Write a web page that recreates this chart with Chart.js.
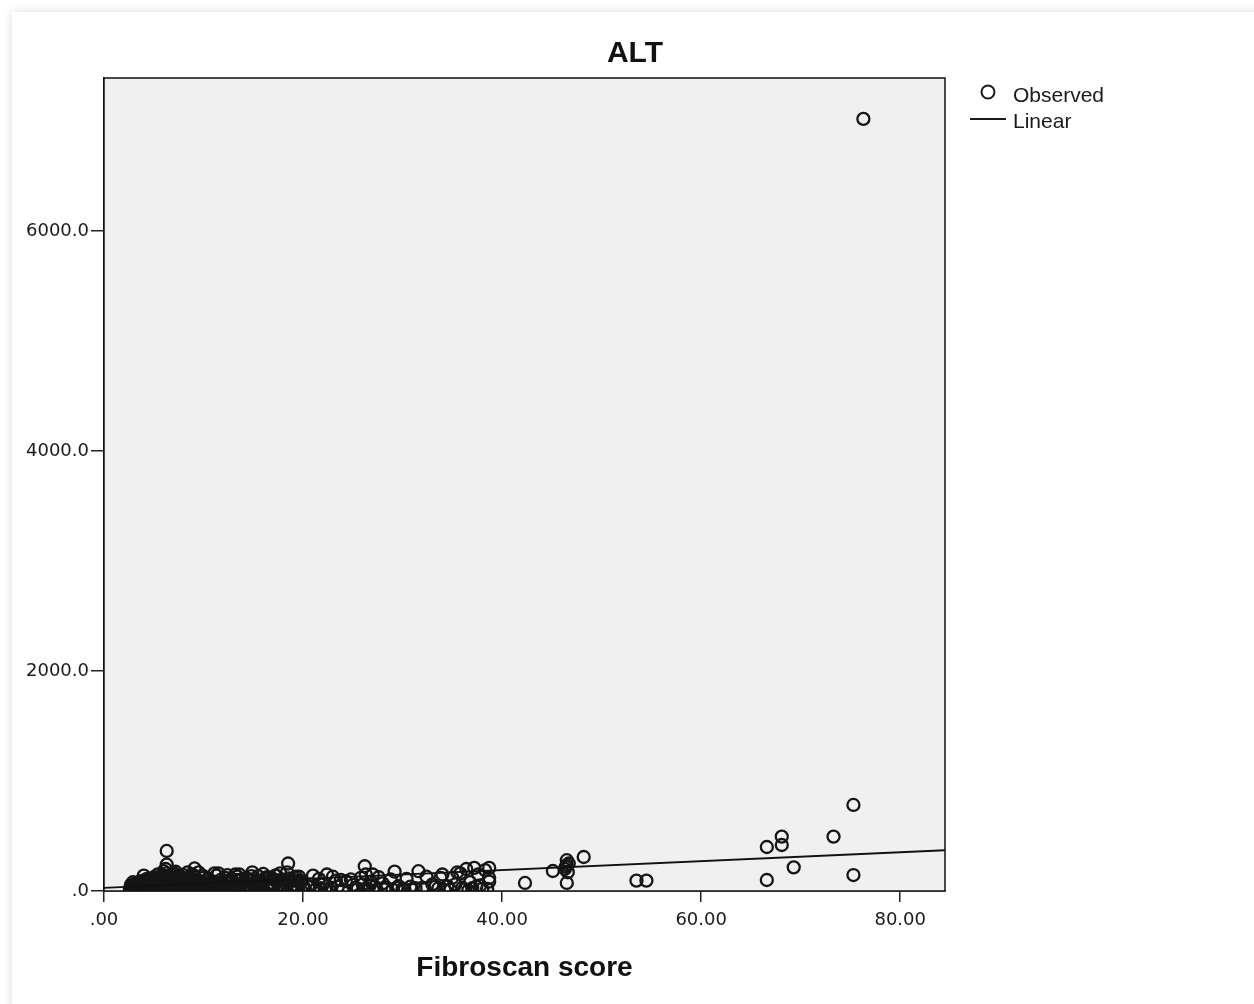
<!DOCTYPE html>
<html>
<head>
<meta charset="utf-8">
<script src="https://cdn.jsdelivr.net/npm/chart.js@4/dist/chart.umd.min.js"></script>
<style>
    body { margin: 0; background: #fff; }
    #card {
        position: absolute; left: 12px; top: 12px; width: 1300px; height: 1100px;
        background: #fff; box-shadow: 0 0 10px rgba(0, 0, 0, 0.14);
    }
    #canvasALT { position: absolute; left: 0; top: 0; }
</style>
</head>
<body>
<div id="card"></div>
<canvas id="canvasALT" width="1254" height="1004"></canvas>
<script>
const TITULO = 'ALT';
const TITULO_X = 'Fibroscan score';
const X_MAX = 84.5;
const Y_MAX = 7390;
const X_TICKS = [0, 20, 40, 60, 80];
const Y_TICKS = [0, 2000, 4000, 6000];

// recta de ajuste lineal
const AJUSTE_INTERCEPTO = 28;
const AJUSTE_PENDIENTE = 4.05;

// observaciones (fibroscan, ALT)
const fibroscan = [
    2.6, 2.8, 2.9, 3.0, 3.1, 3.2, 3.3, 3.4, 3.5, 3.6, 3.7, 3.8, 3.9, 4.0, 4.1, 4.2, 4.3, 4.4, 4.5, 4.6, 4.7, 4.8, 4.9, 5.0,
    3.0, 3.3, 3.6, 3.9, 4.2, 4.5, 4.8, 3.5, 4.0, 4.4, 4.7, 5.0,
    5.1, 5.2, 5.3, 5.4, 5.5, 5.6, 5.7, 5.8, 5.9, 6.0, 6.1, 6.2, 6.3, 6.4, 6.5, 6.6, 6.7, 6.8, 6.9, 7.0,
    7.1, 7.2, 7.3, 7.4, 7.5, 7.6, 7.7, 7.8, 7.9, 8.0, 8.2, 8.4, 8.6, 8.8, 9.0, 9.2, 9.4, 9.6, 9.8, 10.0,
    5.5, 6.0, 6.3, 6.5, 7.0, 7.5, 8.0, 8.5, 9.0, 9.5, 5.8, 6.2, 6.8, 7.2, 7.8, 8.3, 8.9, 9.3, 9.7,
    6.3, 6.4, 9.1,
    10.2, 10.5, 10.8, 11.0, 11.3, 11.6, 11.9, 12.2, 12.5, 12.8, 13.1, 13.4, 13.7, 14.0, 14.3, 14.6, 14.9,
    15.2, 15.5, 15.8, 16.1, 16.4, 16.7, 17.0, 17.3, 17.6, 17.9, 18.2, 18.5, 18.8, 19.1, 19.4, 19.7, 20.0,
    10.4, 11.1, 11.8, 12.4, 13.0, 13.6, 14.2, 14.8, 15.4, 16.0, 16.6, 17.2, 17.8, 18.4, 19.0, 19.6,
    10.9, 12.0, 13.3, 14.5, 15.7, 16.9, 18.0, 19.2, 18.5, 12.6, 16.3,
    2.7, 3.1, 3.4, 3.8, 4.1, 4.6, 5.2, 5.6, 6.1, 6.6, 7.1, 7.6, 8.1, 8.7, 9.1, 9.9, 10.6, 11.4, 12.1,
    12.9, 13.8, 14.4, 15.1, 15.9, 16.8, 17.5, 18.1, 18.9, 19.5,
    2.9, 3.6, 4.3, 5.1, 5.9, 6.7, 7.4, 8.3, 9.4, 10.3, 11.2, 12.3, 13.5, 14.7, 15.6, 16.5, 17.4, 18.6, 19.8,
    4.0, 5.4, 6.9, 8.4, 9.9, 11.5, 13.2, 14.9, 16.2, 17.7, 19.3,
    3.2, 3.7, 4.4, 5.3, 5.7, 6.4, 7.3, 7.9, 8.6, 9.3, 10.1, 10.7, 11.7, 12.7, 13.9,
    14.1, 15.3, 16.4, 17.1, 18.3, 19.4, 4.9, 6.5, 8.1, 9.6, 11.0, 12.8, 15.0, 17.0, 18.8,
    20.5, 21.0, 21.3, 21.6, 22.0, 22.4, 22.8, 23.3, 23.8, 24.3, 24.8, 25.3, 25.8, 26.0, 26.2, 26.3,
    26.5, 26.8, 27.2, 27.6, 28.0, 28.4, 28.8, 29.2, 29.6, 30.0, 30.4, 31.0, 31.6, 32.0, 32.4, 33.0,
    33.6, 34.0, 34.5, 35.0, 35.5, 36.0, 36.4, 36.8, 37.2, 37.6, 38.0, 38.3, 38.7, 38.7, 38.7,
    21.2, 22.2, 26.4, 29.0, 34.2, 36.6, 37.4,
    20.2, 20.8, 21.8, 22.6, 23.5, 24.0, 25.0, 25.5, 26.1, 26.7, 27.4, 28.2, 29.4, 30.2, 30.8, 31.3,
    32.2, 33.3, 34.8, 35.3, 36.2, 37.0, 37.8, 38.5, 23.0, 27.0, 33.8, 35.8,
    42.3, 45.1, 46.3, 46.5, 46.5, 46.6, 46.7, 46.4, 46.5, 48.2, 53.5, 54.5,
    66.6, 66.6, 68.1, 68.1, 69.3, 73.3, 75.3, 75.3, 76.3
];
const alt = [
    18, 25, 12, 40, 22, 55, 30, 15, 65, 38, 20, 75, 45, 28, 90, 52, 33, 60, 18, 85, 42, 100, 25, 70,
    8, 48, 10, 62, 5, 35, 110, 80, 95, 12, 58, 125,
    30, 95, 15, 60, 120, 40, 80, 22, 105, 55, 135, 28, 160, 70, 18, 115, 45, 150, 35, 90,
    62, 125, 20, 100, 48, 140, 75, 12, 110, 58, 85, 30, 130, 65, 40, 105, 25, 90, 50, 120,
    5, 180, 240, 10, 160, 8, 145, 15, 130, 170, 70, 200, 25, 175, 95, 20, 150, 60, 85,
    364, 110, 205,
    45, 110, 20, 85, 140, 30, 65, 120, 15, 95, 50, 130, 25, 80, 115, 40, 100,
    60, 135, 22, 90, 125, 35, 70, 140, 55, 105, 18, 85, 45, 120, 30, 75, 50,
    8, 160, 12, 145, 5, 150, 10, 135, 6, 155, 12, 140, 8, 170, 10, 130,
    60, 40, 100, 25, 80, 115, 45, 95, 250, 75, 110,
    55, 70, 8, 30, 75, 15, 50, 10, 30, 5, 40, 20, 10, 35, 15, 10, 30, 10, 55,
    35, 60, 20, 30, 50, 20, 10, 40, 25, 10,
    80, 25, 110, 70, 130, 90, 60, 110, 70, 95, 40, 90, 60, 105, 85, 55, 95, 115, 90,
    140, 150, 120, 170, 140, 160, 150, 170, 120, 160, 130,
    35, 90, 65, 100, 45, 125, 80, 50, 100, 30, 75, 50, 100, 70, 110,
    40, 80, 35, 100, 60, 45, 20, 45, 35, 60, 25, 110, 70, 55, 100,
    40, 140, 20, 110, 60, 150, 30, 95, 100, 90, 105, 30, 120, 60, 225, 150,
    20, 85, 40, 125, 70, 30, 105, 176, 45, 20, 110, 10, 180, 30, 130, 60,
    25, 150, 45, 120, 170, 30, 200, 80, 210, 150, 20, 190, 210, 118, 85,
    10, 15, 8, 12, 10, 5, 40,
    10, 60, 25, 15, 40, 10, 55, 20, 5, 50, 10, 15, 30, 10, 40, 25,
    15, 40, 10, 60, 15, 25, 50, 20, 130, 150, 120, 160,
    73, 182, 200, 236, 280, 170, 250, 220, 73, 309, 94, 94,
    100, 400, 494, 418, 215, 494, 782, 145, 7018
];

const puntos = fibroscan.map((x, i) => ({ x, y: alt[i] }));
const recta = [0, X_MAX].map(x => ({ x, y: AJUSTE_INTERCEPTO + AJUSTE_PENDIENTE * x }));

// fondo gris y marco del area de trazado, titulo y leyenda
const marcoPlugin = {
    id: 'marco',
    beforeDatasetsDraw(chart) {
        const { ctx, chartArea: a } = chart;
        ctx.save();
        ctx.fillStyle = '#f0f0f0';
        ctx.fillRect(a.left, a.top, a.right - a.left, a.bottom - a.top);
        ctx.restore();
    },
    afterDraw(chart) {
        const { ctx, chartArea: a } = chart;
        ctx.save();
        ctx.strokeStyle = '#111';
        ctx.lineWidth = 1.5;
        ctx.strokeRect(a.left, a.top, a.right - a.left, a.bottom - a.top);

        ctx.fillStyle = '#111';
        ctx.font = 'bold 30px "Liberation Sans", Arial, sans-serif';
        ctx.textAlign = 'center';
        ctx.textBaseline = 'middle';
        ctx.fillText(TITULO, 635, 54);

        // leyenda
        const ds = chart.data.datasets;
        ctx.textAlign = 'left';
        ctx.font = '21px "Liberation Sans", Arial, sans-serif';
        ctx.fillStyle = '#1a1a1a';
        ctx.strokeStyle = '#1a1a1a';
        ctx.lineWidth = 2;
        ctx.beginPath();
        ctx.arc(988, 92, 6.5, 0, Math.PI * 2);
        ctx.stroke();
        ctx.fillText(ds[1].label, 1013, 96);
        ctx.lineWidth = 1.8;
        ctx.beginPath();
        ctx.moveTo(970, 119);
        ctx.lineTo(1006, 119);
        ctx.stroke();
        ctx.fillText(ds[0].label, 1013, 122);
        ctx.restore();
    }
};

const fuenteTicks = { family: '"DejaVu Sans", sans-serif', size: 18 };

new Chart(document.getElementById('canvasALT'), {
    type: 'scatter',
    data: {
        datasets: [
            {
                type: 'line',
                label: 'Linear',
                data: recta,
                borderColor: '#111',
                borderWidth: 1.8,
                pointRadius: 0,
                fill: false
            },
            {
                label: 'Observed',
                data: puntos,
                pointRadius: 6,
                pointHoverRadius: 6,
                borderWidth: 2.3,
                borderColor: '#151515',
                backgroundColor: 'rgba(0,0,0,0)'
            }
        ]
    },
    options: {
        responsive: false,
        animation: false,
        layout: { padding: { top: 78, right: 309, left: 0, bottom: 0 } },
        plugins: { legend: { display: false }, tooltip: { enabled: false } },
        scales: {
            x: {
                type: 'linear',
                min: 0,
                max: X_MAX,
                afterBuildTicks: axis => { axis.ticks = X_TICKS.map(v => ({ value: v })); },
                afterFit: axis => { axis.height = 113; },
                ticks: {
                    color: '#1a1a1a',
                    font: fuenteTicks,
                    padding: 8,
                    maxRotation: 0,
                    callback: v => v === 0 ? '.00' : v.toFixed(2)
                },
                grid: { drawOnChartArea: false, drawTicks: true, tickLength: 11, color: '#222', lineWidth: 1.5 },
                border: { display: true, color: '#111', width: 1.5 },
                title: {
                    display: true,
                    text: TITULO_X,
                    color: '#111',
                    font: { family: '"Liberation Sans", Arial, sans-serif', size: 28, weight: 'bold' },
                    padding: { top: 20, bottom: 19 }
                }
            },
            y: {
                type: 'linear',
                min: 0,
                max: Y_MAX,
                afterBuildTicks: axis => { axis.ticks = Y_TICKS.map(v => ({ value: v })); },
                afterFit: axis => { axis.width = 104; },
                ticks: {
                    color: '#1a1a1a',
                    font: fuenteTicks,
                    padding: 2,
                    callback: v => v === 0 ? '.0' : v.toFixed(1)
                },
                grid: { drawOnChartArea: false, drawTicks: true, tickLength: 13, color: '#222', lineWidth: 1.5 },
                border: { display: true, color: '#111', width: 1.5 }
            }
        }
    },
    plugins: [marcoPlugin]
});
</script>
</body>
</html>
